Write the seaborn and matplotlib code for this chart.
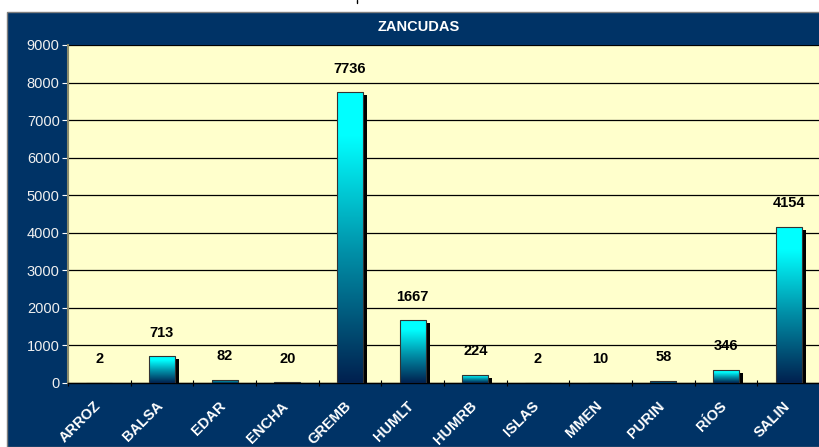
import numpy as np
import pandas as pd
import seaborn as sns
import matplotlib
matplotlib.use('Agg')
from matplotlib import pyplot as plt
from matplotlib.colors import LinearSegmentedColormap
from matplotlib.patches import Rectangle
from matplotlib.lines import Line2D
import matplotlib.transforms as mtransforms

# data
sites = ['ARROZ', 'BALSA', 'EDAR', 'ENCHA', 'GREMB', 'HUMLT',
         'HUMRB', 'ISLAS', 'MMEN', 'PURIN', 'RÍOS', 'SALIN']
counts = [2, 713, 82, 20, 7736, 1667, 224, 2, 10, 58, 346, 4154]
yticks = [0, 1000, 2000, 3000, 4000, 5000, 6000, 7000, 8000, 9000]

df = pd.DataFrame({'site': sites, 'count': counts})

navy = '#003366'
sns.set_style('white')
plt.rcParams['font.family'] = ['Liberation Sans', 'DejaVu Sans']

fig = plt.figure(figsize=(8.2, 4.47), dpi=100, facecolor='white')
# navy chart panel
fig.add_artist(Rectangle((7 / 820, 0), 1, (447 - 12) / 447, transform=fig.transFigure,
                         facecolor=navy, edgecolor='#7f7f7f', linewidth=1, zorder=0))
fig.add_artist(Line2D([357 / 820, 357 / 820], [1, 1 - 3 / 447], transform=fig.transFigure,
                      color='black', linewidth=1))

ax = fig.add_axes([68 / 820, (447 - 383) / 447, (820 - 68) / 820, (383 - 45) / 447])
sns.barplot(data=df, x='site', y='count', ax=ax, width=0.42, color='cyan',
            edgecolor='#333333', linewidth=0.8, zorder=3)

ax.set_facecolor('#FFFFCC')
ax.grid(axis='y', color='black', linewidth=0.9, zorder=0)
ax.set_axisbelow(True)
ax.set_xlabel('')
ax.set_ylabel('')

# gradient fill + drop shadow
cmap = LinearSegmentedColormap.from_list('bar', [(0, '#00204f'), (0.45, '#0090a8'),
                                                 (0.85, '#00ffff'), (1, '#00ffff')])
grad = np.linspace(0, 1, 256).reshape(-1, 1)
shadow_tr = ax.transData + mtransforms.ScaledTranslation(4 / 100, -3 / 100, fig.dpi_scale_trans)
for p in list(ax.patches):
    x0, y0 = p.get_x(), p.get_y()
    w, h = p.get_width(), p.get_height()
    ax.add_patch(Rectangle((x0, y0), w, h, transform=shadow_tr,
                           facecolor='black', edgecolor='none', zorder=2, clip_on=True))
    im = ax.imshow(grad, extent=[x0, x0 + w, y0, y0 + h], origin='lower', cmap=cmap,
                   aspect='auto', zorder=3)
    im.set_clip_path(p)
    p.set_facecolor('none')
    p.set_zorder(4)
ax.set_xlim(-0.5, len(sites) - 0.5)
ax.set_ylim(0, 9000)
ax.set_yticks(yticks)

# value labels
for i, v in enumerate(counts):
    ax.annotate(f'{v}', (i, v), xytext=(0, 17), textcoords='offset points',
                ha='center', va='center', fontsize=10.5, fontweight='bold', color='black', zorder=5)

ax.tick_params(axis='y', labelcolor='#f0f0f0', labelsize=10.5, length=4, width=0.8,
               direction='out', left=True, color='white', pad=2)
ax.set_xticks(range(len(sites)))
ax.set_xticks(np.arange(len(sites)) - 0.5, minor=True)
ax.tick_params(axis='x', which='major', bottom=False, pad=8)
ax.tick_params(axis='x', which='minor', bottom=True, length=4, width=0.8, color='black',
               direction='inout')
ax.set_xticklabels(sites, rotation=45, ha='right', rotation_mode='anchor',
                   fontsize=10.5, fontweight='bold', color='white')
shift = mtransforms.ScaledTranslation(-6 / 100, 0, fig.dpi_scale_trans)
for lab in ax.get_xticklabels():
    lab.set_transform(lab.get_transform() + shift)

for s in ['top', 'right']:
    ax.spines[s].set_visible(False)
ax.spines['left'].set_color('#8c8c6c')
ax.spines['left'].set_linewidth(1.5)
ax.spines['bottom'].set_color('black')
ax.spines['bottom'].set_linewidth(1)

fig.text(419 / 820, 1 - 27 / 447, 'ZANCUDAS', ha='center', va='center', color='white',
         fontsize=10.5, fontweight='bold')

fig.savefig('out.png', dpi=100, facecolor='white')
